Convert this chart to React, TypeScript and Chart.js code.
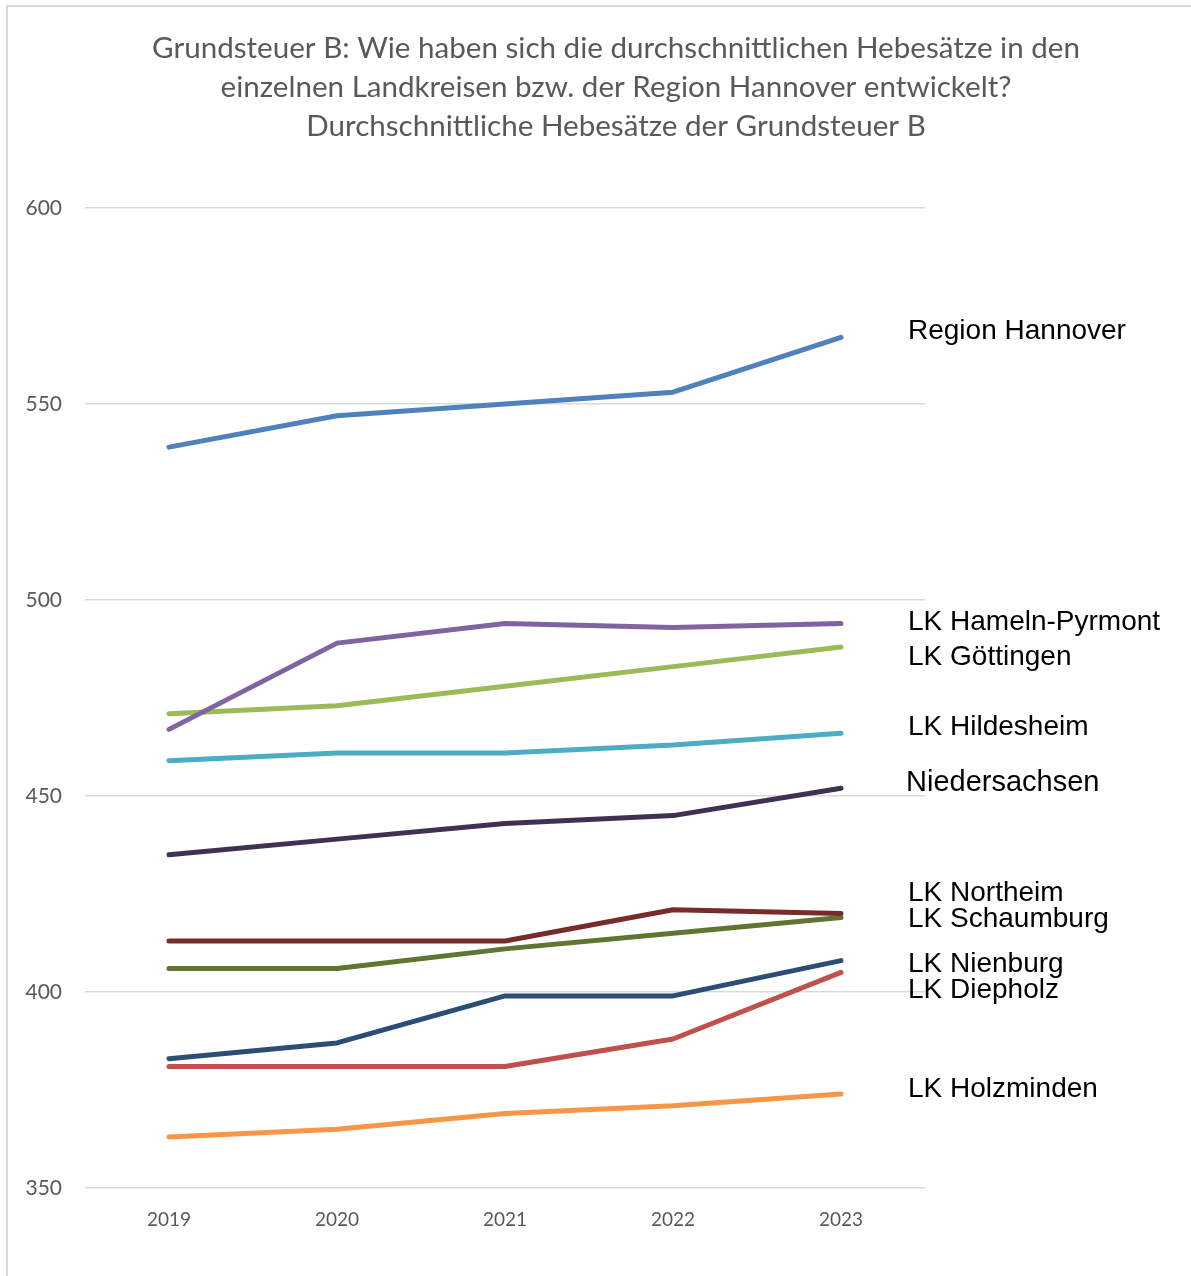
import React, { useEffect, useRef } from "react";
import { Chart, registerables } from "chart.js";

Chart.register(...registerables);

const years = ["2019", "2020", "2021", "2022", "2023"];

const regionHannover = [539, 547, 550, 553, 567];
const hamelnPyrmont = [467, 489, 494, 493, 494];
const goettingen = [471, 473, 478, 483, 488];
const hildesheim = [459, 461, 461, 463, 466];
const niedersachsen = [435, 439, 443, 445, 452];
const northeim = [413, 413, 413, 421, 420];
const schaumburg = [406, 406, 411, 415, 419];
const nienburg = [383, 387, 399, 399, 408];
const diepholz = [381, 381, 381, 388, 405];
const holzminden = [363, 365, 369, 371, 374];

const seriesNames = [
  "Region Hannover",
  "LK Hameln-Pyrmont",
  "LK Göttingen",
  "LK Hildesheim",
  "Niedersachsen",
  "LK Northeim",
  "LK Schaumburg",
  "LK Nienburg",
  "LK Diepholz",
  "LK Holzminden",
];
const seriesValues = [
  regionHannover,
  hamelnPyrmont,
  goettingen,
  hildesheim,
  niedersachsen,
  northeim,
  schaumburg,
  nienburg,
  diepholz,
  holzminden,
];
const seriesColors = [
  "#4F81BD",
  "#8064A2",
  "#9BBB59",
  "#4BACC6",
  "#403152",
  "#772C2A",
  "#5F7530",
  "#2C4D75",
  "#C0504D",
  "#F79646",
];
// value on the y scale where each end label sits
const labelValues = [568.6, 494.4, 485.5, 467.6, 453.3, 425.3, 418.6, 407, 400.5, 375.3];

const titleLines = [
  "Grundsteuer B: Wie haben sich die durchschnittlichen Hebesätze in den",
  "einzelnen Landkreisen bzw. der Region Hannover entwickelt?",
  "Durchschnittliche Hebesätze der Grundsteuer B",
];

const yTicks = [350, 400, 450, 500, 550, 600];

export default function App() {
  const ref = useRef<HTMLCanvasElement | null>(null);
  useEffect(() => {
    document.body.style.margin = "0";
    const canvas = ref.current;
    if (!canvas) return;

    const decor = {
      id: "decor",
      beforeDraw(chart: any) {
        const ctx = chart.ctx;
        ctx.save();
        ctx.fillStyle = "#ffffff";
        ctx.fillRect(0, 0, chart.width, chart.height);
        ctx.strokeStyle = "#D9D9D9";
        ctx.lineWidth = 2;
        ctx.beginPath();
        ctx.moveTo(7, chart.height);
        ctx.lineTo(7, 6);
        ctx.lineTo(chart.width, 6);
        ctx.stroke();
        ctx.restore();
      },
      afterDraw(chart: any) {
        const ctx = chart.ctx;
        ctx.save();
        ctx.fillStyle = "#595959";
        ctx.font = "26px Lato";
        const w = ctx.measureText(titleLines[0]).width;
        const size = (26 * 928) / w;
        ctx.font = `${size.toFixed(2)}px Lato`;
        ctx.textAlign = "center";
        ctx.textBaseline = "middle";
        titleLines.forEach((t, i) => ctx.fillText(t, 616, 48 + i * 39));
        const xs = chart.scales.x;
        const ys = chart.scales.y;
        const lastX = xs.getPixelForValue(years.length - 1);
        ctx.fillStyle = "#000000";
        ctx.textAlign = "left";
        seriesNames.forEach((name, i) => {
          const big = name === "Niedersachsen";
          ctx.font = big ? "29px 'Liberation Sans'" : "28px 'Liberation Sans'";
          ctx.fillText(name, lastX + (big ? 65 : 67), ys.getPixelForValue(labelValues[i]));
        });
        ctx.restore();
      },
    };

    const chart = new Chart(canvas, {
      type: "line",
      data: {
        labels: years,
        datasets: seriesNames.map((name, i) => ({
          label: name,
          data: seriesValues[i],
          borderColor: seriesColors[i],
          backgroundColor: seriesColors[i],
          borderWidth: 5,
          borderCapStyle: "round" as const,
          borderJoinStyle: "round" as const,
          pointRadius: 0,
          tension: 0,
        })),
      },
      options: {
        animation: false,
        responsive: false,
        maintainAspectRatio: false,
        layout: { padding: { top: 208, right: 266, left: 0, bottom: 0 } },
        plugins: {
          legend: { display: false },
          title: { display: false },
          tooltip: { enabled: false },
        },
        scales: {
          x: {
            offset: true,
            grid: { display: false },
            border: { display: false },
            ticks: {
              color: "#595959",
              font: { family: "Lato", size: 19 },
              padding: 12,
              maxRotation: 0,
            },
            afterFit(axis: any) {
              axis.height = 88;
            },
          },
          y: {
            min: 350,
            max: 600,
            afterBuildTicks(axis: any) {
              axis.ticks = yTicks.map((v) => ({ value: v }));
            },
            grid: { color: "#D9D9D9", lineWidth: 1.5, drawTicks: false },
            border: { display: false },
            ticks: {
              color: "#595959",
              font: { family: "Lato", size: 21 },
              padding: 23,
            },
            afterFit(axis: any) {
              axis.width = 85;
            },
          },
        },
      },
      plugins: [decor],
    });
    return () => chart.destroy();
  }, []);
  return (
    <div style={{ width: 1191, height: 1276 }}>
      <canvas ref={ref} width={1191} height={1276} style={{ display: "block" }} />
    </div>
  );
}
